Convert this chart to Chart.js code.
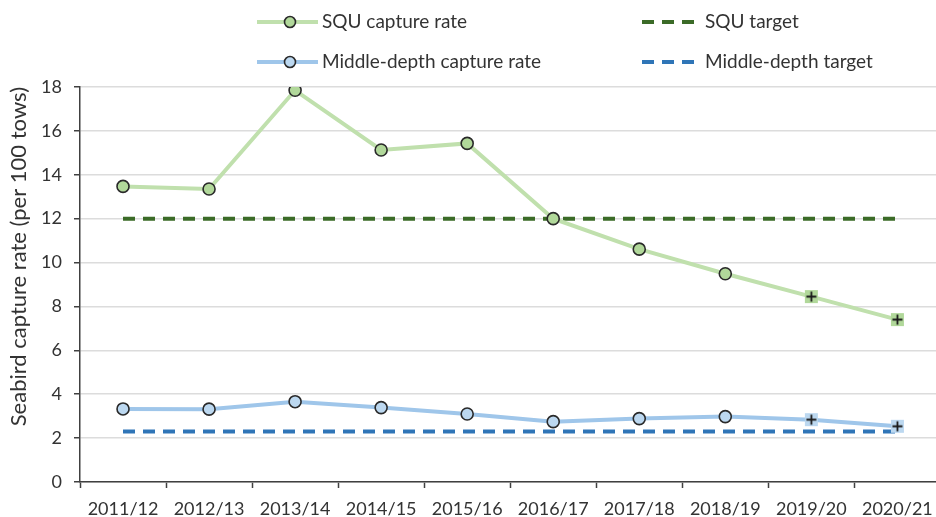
<!DOCTYPE html>
<html>
<head>
<meta charset="utf-8">
<script src="https://cdn.jsdelivr.net/npm/chart.js@4.4.1/dist/chart.umd.min.js"></script>
<style>
  html, body { margin: 0; padding: 0; background: #ffffff; overflow: hidden; }
  #wrap { width: 936px; height: 517px; position: relative; overflow: hidden; }
</style>
</head>
<body>
<div id="wrap"><canvas id="chart" width="948" height="517"></canvas></div>
<script>
// Fishing seasons
const seasons = ['2011/12', '2012/13', '2013/14', '2014/15', '2015/16',
                 '2016/17', '2017/18', '2018/19', '2019/20', '2020/21'];

// Seabird captures per 100 tows
const squRate    = [13.47, 13.35, 17.85, 15.13, 15.43, 12.0, 10.61, 9.49, 8.45, 7.4];
const middleRate = [3.33, 3.32, 3.66, 3.39, 3.1, 2.75, 2.89, 2.98, 2.84, 2.54];

// Targets
const squTarget    = 12;
const middleTarget = 2.3;

// y axis ticks
const yTicks = [0, 2, 4, 6, 8, 10, 12, 14, 16, 18];

// Seasons whose rates are provisional (drawn with a cross marker)
const provisional = ['2019/20', '2020/21'];

const FONT = 'Lato, "Open Sans", sans-serif';
const TEXT = '#333333';

const squLine = '#c0e0ad', squFill = '#b1d89a';
const midLine = '#9fc6ea', midFill = '#bcd8f0';
const squDash = '#3b6b27', midDash = '#2f75b7';

function crossMarker(bg) {
  const c = document.createElement('canvas');
  c.width = 15; c.height = 15;
  const g = c.getContext('2d');
  g.fillStyle = bg;
  g.fillRect(1, 1, 13, 13);
  g.strokeStyle = '#1a1a1a';
  g.lineWidth = 1.8;
  g.beginPath();
  g.moveTo(7.5, 2.5); g.lineTo(7.5, 12.5);
  g.moveTo(2.5, 7.5); g.lineTo(12.5, 7.5);
  g.stroke();
  return c;
}
const squCross = crossMarker(squFill);
const midCross = crossMarker(midFill);

const squStyles = seasons.map(s => provisional.includes(s) ? squCross : 'circle');
const midStyles = seasons.map(s => provisional.includes(s) ? midCross : 'circle');

// Two-column legend drawn on the canvas
const legendPlugin = {
  id: 'gridLegend',
  afterDraw(chart) {
    const ctx = chart.ctx;
    const items = [
      { ds: 0, x: 257, y: 22 },
      { ds: 2, x: 642, y: 22 },
      { ds: 1, x: 257, y: 62 },
      { ds: 3, x: 642, y: 62 }
    ];
    ctx.save();
    ctx.font = '19px ' + FONT;
    ctx.textBaseline = 'middle';
    items.forEach(it => {
      const d = chart.data.datasets[it.ds];
      ctx.save();
      ctx.strokeStyle = d.borderColor;
      ctx.lineWidth = 4;
      if (d.borderDash) {
        ctx.setLineDash(d.borderDash);
        ctx.beginPath();
        ctx.moveTo(it.x, it.y); ctx.lineTo(it.x + 56, it.y);
        ctx.stroke();
        ctx.restore();
        ctx.fillStyle = TEXT;
        ctx.fillText(d.label, it.x + 63, it.y);
      } else {
        ctx.beginPath();
        ctx.moveTo(it.x, it.y); ctx.lineTo(it.x + 61, it.y);
        ctx.stroke();
        ctx.beginPath();
        ctx.arc(it.x + 33, it.y, 5.5, 0, Math.PI * 2);
        ctx.fillStyle = d.pointBackgroundColor;
        ctx.fill();
        ctx.lineWidth = 1.6;
        ctx.strokeStyle = '#2a2a2a';
        ctx.stroke();
        ctx.restore();
        ctx.fillStyle = TEXT;
        ctx.fillText(d.label, it.x + 65, it.y);
      }
    });
    ctx.restore();
  }
};

new Chart(document.getElementById('chart'), {
  type: 'line',
  data: {
    labels: seasons,
    datasets: [
      {
        label: 'SQU capture rate',
        data: squRate,
        borderColor: squLine,
        borderWidth: 4,
        pointStyle: squStyles,
        pointRadius: 6,
        pointBackgroundColor: squFill,
        pointBorderColor: '#2a2a2a',
        pointBorderWidth: 1.6,
        order: 0
      },
      {
        label: 'Middle-depth capture rate',
        data: middleRate,
        borderColor: midLine,
        borderWidth: 4,
        pointStyle: midStyles,
        pointRadius: 6,
        pointBackgroundColor: midFill,
        pointBorderColor: '#2a2a2a',
        pointBorderWidth: 1.6,
        order: 0
      },
      {
        label: 'SQU target',
        data: seasons.map(() => squTarget),
        borderColor: squDash,
        borderWidth: 4,
        borderDash: [12, 8],
        pointRadius: 0,
        order: 1
      },
      {
        label: 'Middle-depth target',
        data: seasons.map(() => middleTarget),
        borderColor: midDash,
        borderWidth: 4,
        borderDash: [12, 8],
        pointRadius: 0,
        order: 1
      }
    ]
  },
  options: {
    responsive: false,
    animation: false,
    devicePixelRatio: 1,
    layout: { padding: { top: 87, right: 0, left: 0, bottom: 0 } },
    plugins: {
      legend: { display: false },
      tooltip: { enabled: false }
    },
    scales: {
      x: {
        offset: true,
        grid: {
          offset: true,
          drawOnChartArea: false,
          drawTicks: true,
          tickLength: 6,
          tickColor: '#404040',
          tickWidth: 1.5
        },
        border: { color: '#404040', width: 1.5 },
        ticks: {
          color: TEXT,
          font: { family: FONT, size: 18 },
          maxRotation: 0,
          autoSkip: false,
          padding: 10
        },
        afterFit(scale) { scale.height = 35; }
      },
      y: {
        min: 0,
        max: 18,
        afterBuildTicks(scale) { scale.ticks = yTicks.map(v => ({ value: v })); },
        grid: {
          color: '#dcdcdc',
          lineWidth: 1.5,
          tickLength: 6,
          tickColor: '#404040',
          tickWidth: 1.5
        },
        border: { color: '#404040', width: 1.5 },
        ticks: {
          color: TEXT,
          font: { family: FONT, size: 18 },
          padding: 12
        },
        title: {
          display: true,
          text: 'Seabird capture rate (per 100 tows)',
          align: 'end',
          color: TEXT,
          font: { family: FONT, size: 22 },
          padding: { top: 6, bottom: 0 }
        },
        afterFit(scale) { scale.width = 80; }
      }
    }
  },
  plugins: [legendPlugin]
});
</script>
</body>
</html>
